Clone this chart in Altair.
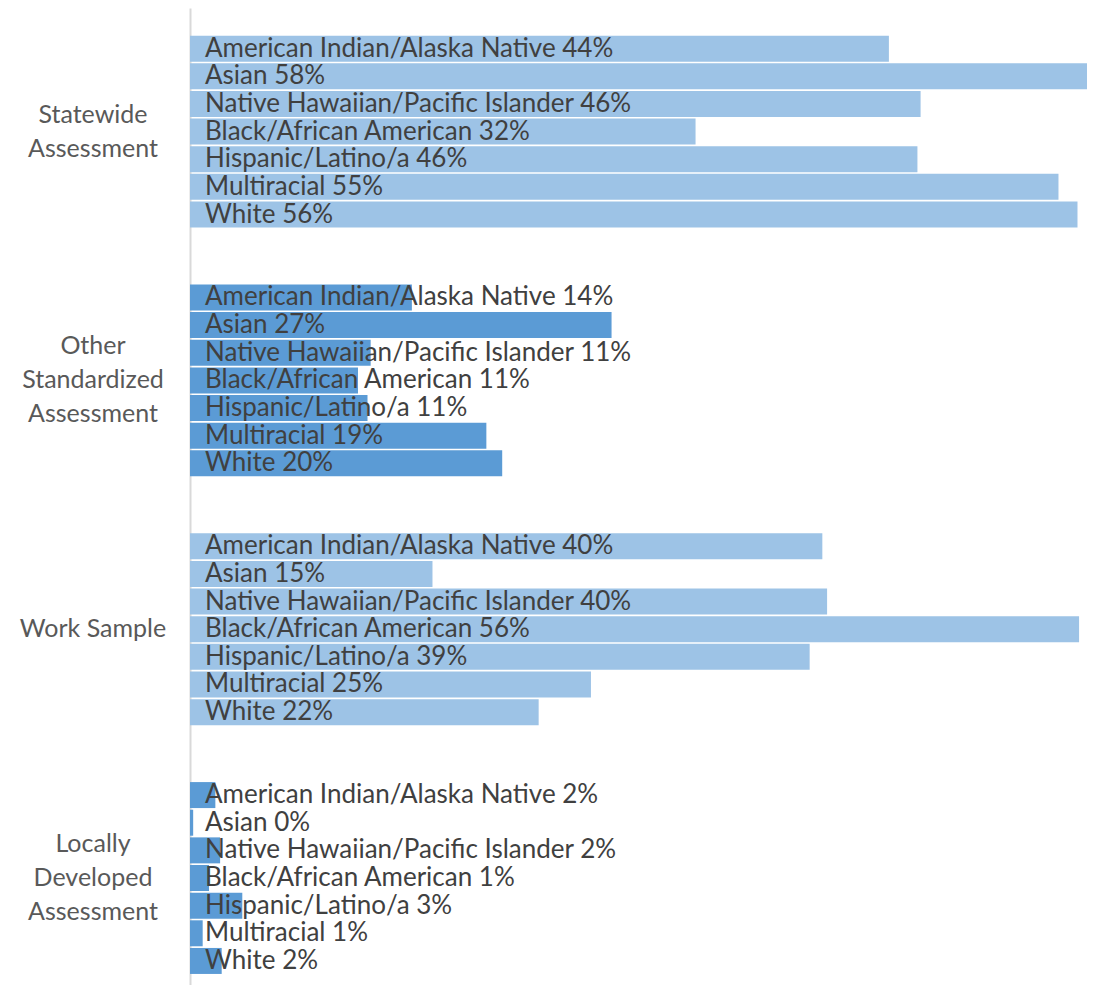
import altair as alt
import pandas as pd

races = [
    "American Indian/Alaska Native",
    "Asian",
    "Native Hawaiian/Pacific Islander",
    "Black/African American",
    "Hispanic/Latino/a",
    "Multiracial",
    "White",
]
groups = [
    "Statewide Assessment",
    "Other Standardized Assessment",
    "Work Sample",
    "Locally Developed Assessment",
]
group_labels = [
    "Statewide\nAssessment",
    "Other\nStandardized\nAssessment",
    "Work Sample",
    "Locally\nDeveloped\nAssessment",
]
statewide = [44.1, 58.0, 46.1, 31.9, 45.9, 54.8, 56.0]
other_std = [14.0, 26.6, 11.4, 10.6, 11.2, 18.7, 19.7]
work_sample = [39.9, 15.3, 40.2, 56.1, 39.1, 25.3, 22.0]
locally = [1.6, 0.2, 1.9, 1.2, 3.3, 0.8, 2.0]
group_colors = ["#9DC3E6", "#5B9BD5", "#9DC3E6", "#5B9BD5"]

series = [statewide, other_std, work_sample, locally]

rows = []
for gi, (g, vals) in enumerate(zip(groups, series)):
    for ri, (r, v) in enumerate(zip(races, vals)):
        rows.append(dict(key=f"{gi}-{ri}", group=g, race=r, value=v,
                         label=f"{r} {round(v)}%"))
df = pd.DataFrame(rows)

glab = pd.DataFrame([dict(key=f"{gi}-3", text=t) for gi, t in enumerate(group_labels)])

domain = ["top"]
for gi in range(len(groups)):
    domain += [f"{gi}-{ri}" for ri in range(len(races))]
    if gi < len(groups) - 1:
        domain += [f"gap{gi}a", f"gap{gi}b"]

LINE_H = 34
HALF_BAND = 13
yscale = alt.Scale(domain=domain, paddingInner=0.06, paddingOuter=0.2, align=0)
xscale = alt.Scale(domain=[0, 56.6])

bars = alt.Chart(df).mark_bar(clip=True).encode(
    x=alt.X("value:Q", scale=xscale, axis=None),
    y=alt.Y("key:N", scale=yscale, sort=None,
            axis=alt.Axis(labels=False, ticks=False, title=None, grid=False,
                          domainColor="#d9d9d9", domainWidth=2)),
    color=alt.Color("group:N", scale=alt.Scale(domain=groups, range=group_colors), legend=None),
)

texts = alt.Chart(df).mark_text(
    align="left", baseline="middle", font="Lato", fontSize=26, color="#404040"
).encode(
    x=alt.value(15),
    y=alt.Y("key:N", scale=yscale, sort=None),
    text="label:N",
)

gtexts = alt.Chart(glab).transform_calculate(
    off=f"{HALF_BAND} - (length(split(datum.text, '\\n')) - 1) * {LINE_H / 2}"
).mark_text(
    align="center", baseline="middle", font="Lato", fontSize=25, color="#595959",
    lineBreak="\n", lineHeight=LINE_H
).encode(
    x=alt.value(-97),
    y=alt.Y("key:N", scale=yscale, sort=None),
    yOffset=alt.YOffset("off:Q", scale=None),
    text="text:N",
)

chart = alt.layer(bars, texts, gtexts).properties(
    width=897, height=977,
    autosize=alt.AutoSizeParams(type="none"),
    padding={"left": 182, "top": 0, "right": 0, "bottom": 0},
).configure_view(stroke=None)

chart.save("out.html", embed_options={"renderer": "svg", "actions": False})
